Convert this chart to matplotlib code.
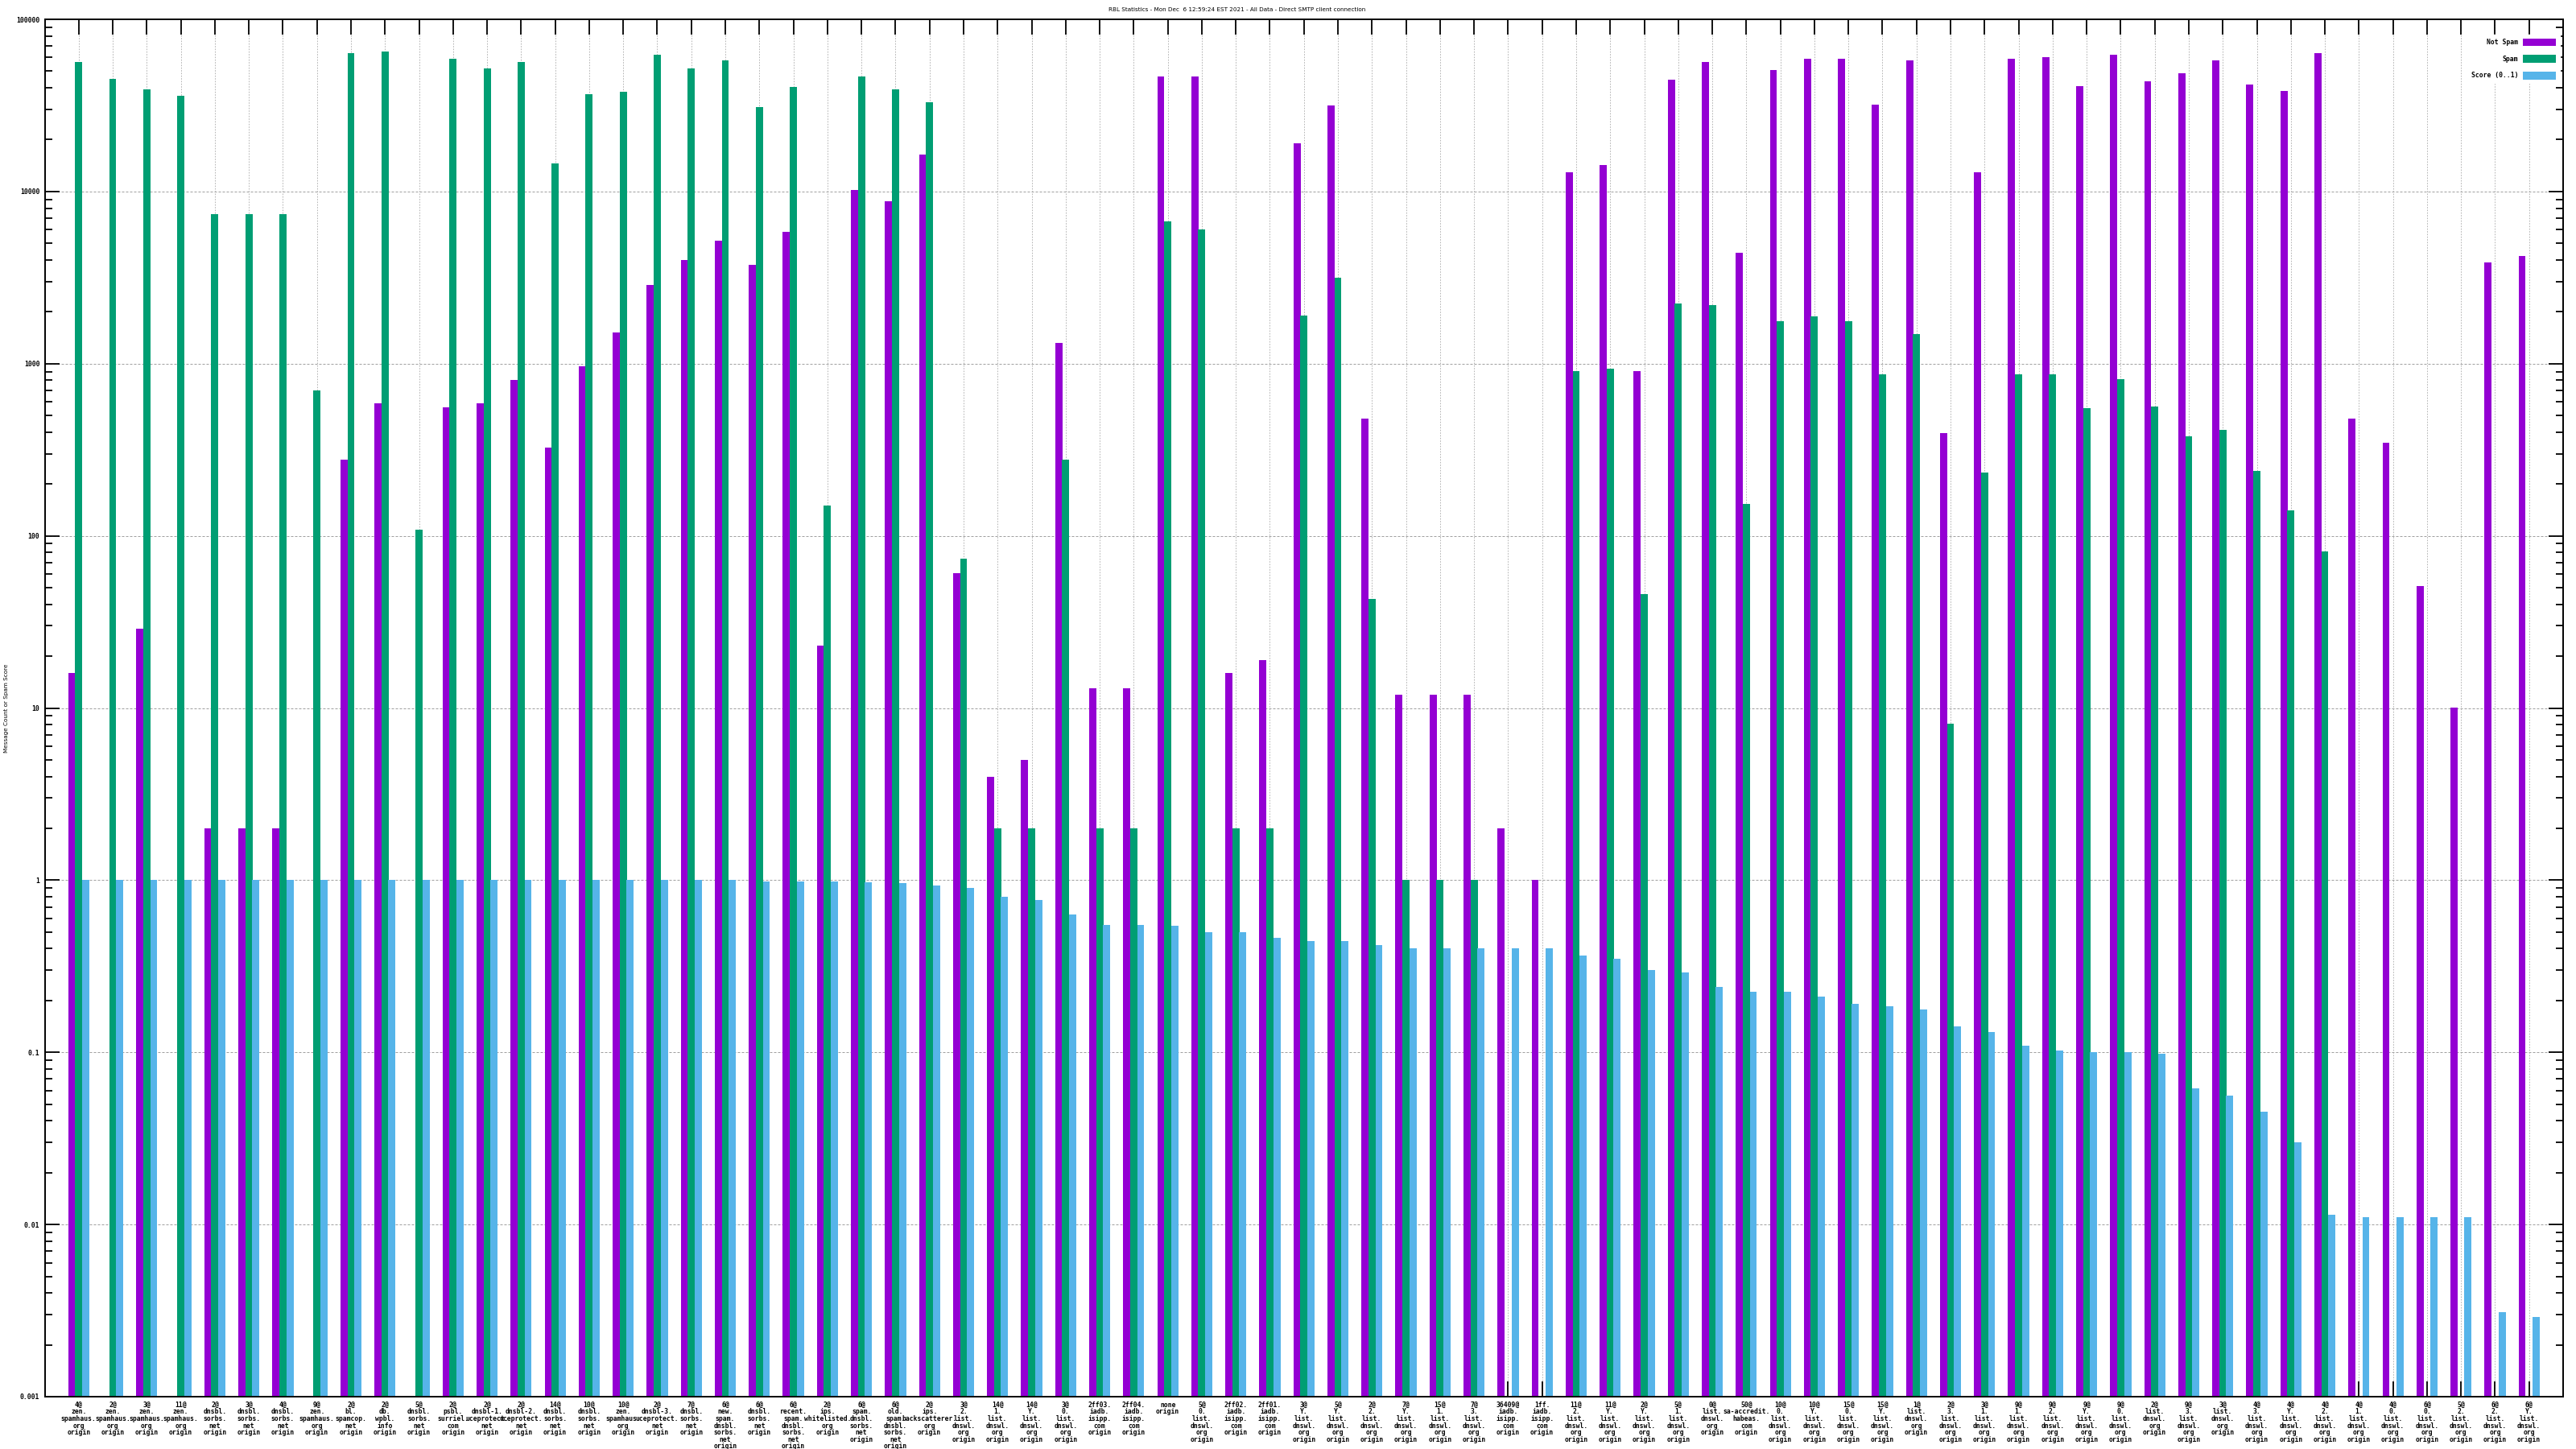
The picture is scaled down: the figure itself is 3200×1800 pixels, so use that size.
import numpy as np
import matplotlib
matplotlib.use('Agg')
import matplotlib.pyplot as plt
from matplotlib.ticker import FuncFormatter, NullLocator, FixedLocator

title = 'RBL Statistics - Mon Dec  6 12:59:24 EST 2021 - All Data - Direct SMTP client connection'

# category labels, one space = one line break
labels = [
    '4@ zen. spamhaus. org origin', '2@ zen. spamhaus. org origin', '3@ zen. spamhaus. org origin',
    '11@ zen. spamhaus. org origin', '2@ dnsbl. sorbs. net origin', '3@ dnsbl. sorbs. net origin',
    '4@ dnsbl. sorbs. net origin', '9@ zen. spamhaus. org origin', '2@ bl. spamcop. net origin',
    '2@ db. wpbl. info origin', '5@ dnsbl. sorbs. net origin', '2@ psbl. surriel. com origin',
    '2@ dnsbl-1. uceprotect. net origin', '2@ dnsbl-2. uceprotect. net origin',
    '14@ dnsbl. sorbs. net origin', '10@ dnsbl. sorbs. net origin', '10@ zen. spamhaus. org origin',
    '2@ dnsbl-3. uceprotect. net origin', '7@ dnsbl. sorbs. net origin',
    '6@ new. spam. dnsbl. sorbs. net origin', '6@ dnsbl. sorbs. net origin',
    '6@ recent. spam. dnsbl. sorbs. net origin', '2@ ips. whitelisted. org origin',
    '6@ spam. dnsbl. sorbs. net origin', '6@ old. spam. dnsbl. sorbs. net origin',
    '2@ ips. backscatterer. org origin', '3@ 2. list. dnswl. org origin',
    '14@ 1. list. dnswl. org origin', '14@ Y. list. dnswl. org origin', '3@ 0. list. dnswl. org origin',
    '2ff03. iadb. isipp. com origin', '2ff04. iadb. isipp. com origin', 'none origin',
    '5@ 0. list. dnswl. org origin', '2ff02. iadb. isipp. com origin', '2ff01. iadb. isipp. com origin',
    '3@ Y. list. dnswl. org origin', '5@ Y. list. dnswl. org origin', '2@ 2. list. dnswl. org origin',
    '7@ Y. list. dnswl. org origin', '15@ 1. list. dnswl. org origin', '7@ 3. list. dnswl. org origin',
    '36409@ iadb. isipp. com origin', '1ff. iadb. isipp. com origin', '11@ 2. list. dnswl. org origin',
    '11@ Y. list. dnswl. org origin', '2@ Y. list. dnswl. org origin', '5@ 1. list. dnswl. org origin',
    '0@ list. dnswl. org origin', '50@ sa-accredit. habeas. com origin',
    '10@ 0. list. dnswl. org origin', '10@ Y. list. dnswl. org origin', '15@ 0. list. dnswl. org origin',
    '15@ Y. list. dnswl. org origin', '1@ list. dnswl. org origin', '2@ 3. list. dnswl. org origin',
    '3@ 1. list. dnswl. org origin', '9@ 1. list. dnswl. org origin', '9@ 2. list. dnswl. org origin',
    '9@ Y. list. dnswl. org origin', '9@ 0. list. dnswl. org origin', '2@ list. dnswl. org origin',
    '9@ 3. list. dnswl. org origin', '3@ list. dnswl. org origin', '4@ 3. list. dnswl. org origin',
    '4@ Y. list. dnswl. org origin', '4@ 2. list. dnswl. org origin', '4@ 1. list. dnswl. org origin',
    '4@ 0. list. dnswl. org origin', '6@ 0. list. dnswl. org origin', '5@ 2. list. dnswl. org origin',
    '6@ 2. list. dnswl. org origin', '6@ Y. list. dnswl. org origin',
]

not_spam = [16, 0, 29, 0, 2, 2, 2, 0, 278, 590,
            0, 560, 590, 800, 324, 970, 1520, 2860, 3980, 5200,
            3730, 5800, 23, 10200, 8800, 16300, 61, 4, 5, 1320,
            13, 13, 46500, 46500, 16, 19, 19000, 31500, 480, 12,
            12, 12, 2, 1, 13000, 14200, 910, 44600, 56800, 4430,
            50900, 59300, 59300, 32100, 58000, 395, 13000, 59300, 60500, 40800,
            62000, 43600, 48700, 58000, 41700, 38200, 63400, 482, 346, 51,
            10, 3890, 4240]

spam = [56600, 45200, 39300, 36000, 7400, 7400, 7400, 700, 63400, 64800,
        108, 59000, 52000, 56800, 14600, 36600, 38000, 62000, 52000, 58000,
        30800, 40500, 150, 46700, 39000, 33000, 74, 2, 2, 278,
        2, 2, 6700, 6000, 2, 2, 1900, 3140, 43, 1,
        1, 1, 0, 0, 910, 931, 46, 2240, 2190, 153,
        1760, 1880, 1760, 870, 1480, 8.1, 233, 870, 870, 550,
        816, 561, 378, 413, 238, 141, 81, 0, 0, 0,
        0, 0, 0]

score = [1, 1, 1, 1, 1, 1, 1, 1, 1, 1,
         1, 1, 1, 1, 1, 1, 1, 1, 1, 1,
         0.98, 0.98, 0.98, 0.97, 0.96, 0.93, 0.9, 0.8, 0.77, 0.63,
         0.55, 0.55, 0.54, 0.5, 0.5, 0.46, 0.44, 0.44, 0.42, 0.4,
         0.4, 0.4, 0.4, 0.4, 0.364, 0.348, 0.30, 0.29, 0.24, 0.224,
         0.224, 0.21, 0.19, 0.184, 0.176, 0.141, 0.13, 0.108, 0.101, 0.099,
         0.099, 0.097, 0.061, 0.055, 0.044, 0.029, 0.0104, 0.01, 0.01, 0.01,
         0.01, 0.0021, 0.0019]

W, H = 3200, 1800
fig = plt.figure(figsize=(W / 100, H / 100), dpi=100)
ax = fig.add_axes([55.5 / W, 1 - 1735 / H, (3184 - 55.5) / W, (1735 - 24) / H])

mono = 'DejaVu Sans Mono'
fs = 5.75

x = np.arange(len(labels))
bw = 0.21
off = 0.205
series = [(not_spam, '#9400d3', 'Not Spam', -off),
          (spam, '#009e73', 'Spam', 0),
          (score, '#56b4e9', 'Score (0..1)', off)]
handles = []
for vals, col, name, dx in series:
    v = np.array(vals, dtype=float)
    v[v <= 0] = np.nan
    b = ax.bar(x + dx, v, bw, bottom=1e-3, color=col, label=name, linewidth=0)
    handles.append(b)

ax.set_yscale('log')
ax.set_ylim(1e-3, 1e5)
ax.set_xlim(-1, len(labels))
ax.set_axisbelow(True)

ax.xaxis.set_major_locator(FixedLocator(x))
ax.xaxis.set_minor_locator(NullLocator())
ax.set_xticklabels(['\n'.join(s.split(' ')) for s in labels],
                   family=mono, fontsize=fs, fontweight='bold', linespacing=0.95)
ax.yaxis.set_major_formatter(FuncFormatter(lambda v, p: '%g' % v))
for t in ax.get_yticklabels():
    t.set_family(mono)
    t.set_fontsize(fs)
    t.set_fontweight('bold')

ax.tick_params(axis='both', which='both', direction='in', top=True, right=True,
               width=1.3, color='black')
ax.tick_params(axis='x', which='major', length=13.5, pad=4)
ax.tick_params(axis='y', which='major', length=13, pad=4.5)
ax.tick_params(axis='y', which='minor', length=6.7)

ax.grid(axis='y', which='major', color='#a0a0a0', linestyle=(0, (3, 2)), linewidth=0.72)
ax.grid(axis='x', which='major', color='#a8a8a8', linestyle=(0, (2, 2)), linewidth=0.6)
for s in ax.spines.values():
    s.set_linewidth(1.4)

leg = ax.legend(handles=handles, loc='upper right', bbox_to_anchor=(0.9987, 0.9889),
                markerfirst=False, frameon=True,
                fancybox=False, framealpha=1, edgecolor='white', facecolor='white',
                handlelength=5.2, handleheight=1.45, handletextpad=0.7,
                labelspacing=1.4, borderaxespad=0, borderpad=0.6,
                prop={'family': mono, 'size': fs, 'weight': 'bold'})
for t in leg.get_texts():
    t.set_ha('right')

fig.text(1537 / W, 1 - 12 / H, title, ha='center', va='center',
         family='DejaVu Sans', fontsize=5.2)
fig.text(8 / W, 1 - 880 / H, 'Message Count or Spam Score', rotation=90,
         ha='center', va='center', family='DejaVu Sans', fontsize=5.2)

fig.savefig('out.png', dpi=100)
